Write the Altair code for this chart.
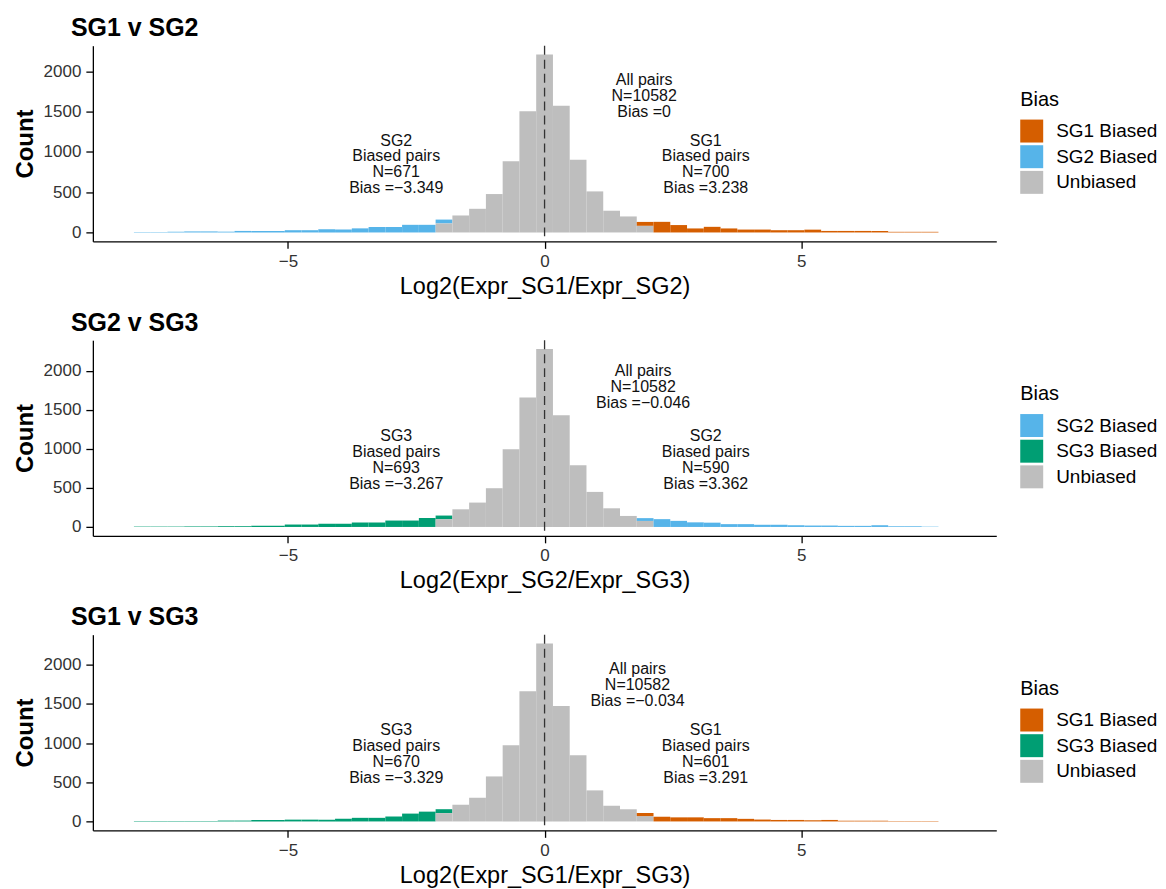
import altair as alt
import pandas as pd

FONT = "Liberation Sans"
BIN_WIDTH = 16 / 49          # 49 bins over [-8, 8]
LEFT_BINS = list(range(-24, -5))   # -24 .. -6
MID_BINS = list(range(-6, 7))      # -6 .. 6
RIGHT_BINS = list(range(6, 24))    # 6 .. 23

COLORS = {"SG1 Biased": "#D55E00", "SG2 Biased": "#56B4E9",
          "SG3 Biased": "#009E73", "Unbiased": "#BEBEBE"}

# ---- Panel 1: SG1 v SG2 ----
P1_LEFT = [5, 5, 9, 13, 13, 10, 19, 19, 19, 28, 28, 41, 37, 51, 68, 68, 95, 95, 48]
P1_MID = [112, 211, 294, 477, 883, 1504, 2209, 1575, 903, 510, 270, 199, 83]
P1_RIGHT = [48, 132, 92, 50, 70, 50, 36, 36, 28, 28, 35, 19, 19, 19, 18, 8, 8, 8]

# ---- Panel 2: SG2 v SG3 ----
P2_LEFT = [5, 5, 5, 7, 7, 10, 10, 16, 16, 31, 31, 41, 41, 57, 57, 82, 82, 115, 48]
P2_MID = [98, 226, 312, 496, 996, 1658, 2278, 1432, 790, 449, 239, 141, 77]
P2_RIGHT = [36, 100, 78, 59, 55, 36, 36, 28, 28, 22, 18, 18, 14, 14, 22, 9, 9, 4]

# ---- Panel 3: SG1 v SG3 ----
P3_LEFT = [6, 6, 6, 6, 6, 11, 11, 18, 18, 23, 23, 23, 35, 46, 46, 63, 100, 125, 50]
P3_MID = [106, 213, 302, 574, 970, 1660, 2268, 1472, 843, 396, 200, 155, 68]
P3_RIGHT = [40, 60, 52, 52, 42, 42, 33, 24, 19, 19, 15, 19, 9, 9, 9, 5, 5, 5]

PANELS = [
    dict(title="SG1 v SG2", xtitle="Log2(Expr_SG1/Expr_SG2)",
         left_cat="SG2 Biased", right_cat="SG1 Biased",
         left=P1_LEFT, mid=P1_MID, right=P1_RIGHT,
         ann_x=[1.94, -2.89, 3.14], ann_y=[1894, 1142, 1142],
         ann=["All pairs\nN=10582\nBias =0",
              "SG2\nBiased pairs\nN=671\nBias =\u22123.349",
              "SG1\nBiased pairs\nN=700\nBias =3.238"]),
    dict(title="SG2 v SG3", xtitle="Log2(Expr_SG2/Expr_SG3)",
         left_cat="SG3 Biased", right_cat="SG2 Biased",
         left=P2_LEFT, mid=P2_MID, right=P2_RIGHT,
         ann_x=[1.92, -2.89, 3.14], ann_y=[1999, 1168, 1168],
         ann=["All pairs\nN=10582\nBias =\u22120.046",
              "SG3\nBiased pairs\nN=693\nBias =\u22123.267",
              "SG2\nBiased pairs\nN=590\nBias =3.362"]),
    dict(title="SG1 v SG3", xtitle="Log2(Expr_SG1/Expr_SG3)",
         left_cat="SG3 Biased", right_cat="SG1 Biased",
         left=P3_LEFT, mid=P3_MID, right=P3_RIGHT,
         ann_x=[1.81, -2.89, 3.14], ann_y=[1944, 1163, 1163],
         ann=["All pairs\nN=10582\nBias =\u22120.034",
              "SG3\nBiased pairs\nN=670\nBias =\u22123.329",
              "SG1\nBiased pairs\nN=601\nBias =3.291"]),
]

W, H = 905, 196


def make_panel(p):
    rows = []
    for b, v in zip(LEFT_BINS, p["left"]):
        rows.append(dict(bin=b, cat=p["left_cat"], n=v, ord=1))
    for b, v in zip(MID_BINS, p["mid"]):
        rows.append(dict(bin=b, cat="Unbiased", n=v, ord=0))
    for b, v in zip(RIGHT_BINS, p["right"]):
        rows.append(dict(bin=b, cat=p["right_cat"], n=v, ord=1))
    df = pd.DataFrame(rows)
    df["lo"] = df["bin"] * BIN_WIDTH - BIN_WIDTH / 2
    df["hi"] = df["bin"] * BIN_WIDTH + BIN_WIDTH / 2
    peak = df.groupby("bin")["n"].sum().max()
    ydom = [-0.05 * peak, 1.05 * peak]
    dom = sorted([p["left_cat"], p["right_cat"]]) + ["Unbiased"]
    rng = [COLORS[c] for c in dom]

    xs = alt.Scale(domain=[-8.8, 8.8], nice=False, zero=False)
    ys = alt.Scale(domain=ydom, nice=False, zero=False)

    bars = alt.Chart(df).transform_stack(
        stack="n", groupby=["bin"], as_=["y0", "y1"],
        sort=[alt.SortField("ord", order="ascending")]
    ).mark_bar(strokeWidth=0).encode(
        x=alt.X("lo:Q", scale=xs, title=p["xtitle"], axis=alt.Axis(values=[-5, 0, 5])),
        x2="hi:Q",
        y=alt.Y("y0:Q", scale=ys, title="Count",
                axis=alt.Axis(values=[0, 500, 1000, 1500, 2000], format="d")),
        y2="y1:Q",
        color=alt.Color("cat:N", scale=alt.Scale(domain=dom, range=rng),
                        legend=alt.Legend(
                            title="Bias", orient="none", legendX=929, legendY=44,
                            titleFontSize=20, titleFontWeight="normal", titleFont=FONT,
                            titleColor="black", labelFont=FONT, labelFontSize=19,
                            labelColor="black", symbolType="square", symbolSize=529,
                            symbolStrokeWidth=0, symbolOpacity=1, labelOffset=13,
                            rowPadding=2.7, titlePadding=10)),
    )

    rule = alt.Chart(pd.DataFrame({"x": [0]})).mark_rule(
        strokeDash=[9, 5], color="#333333", strokeWidth=1.3
    ).encode(x=alt.X("x:Q", scale=xs, title=p["xtitle"]))

    ann = pd.DataFrame({"x": p["ann_x"], "y": p["ann_y"], "label": p["ann"]})
    texts = alt.Chart(ann).mark_text(
        lineBreak="\n", font=FONT, fontSize=16, lineHeight=16, color="#111111",
        align="center", baseline="middle"
    ).encode(
        x=alt.X("x:Q", scale=xs, title=p["xtitle"]),
        y=alt.Y("y:Q", scale=ys, title="Count"),
        text="label:N",
    )

    return alt.layer(bars, rule, texts).properties(
        width=W, height=H,
        title=alt.TitleParams(p["title"], anchor="start", frame="group", dx=-22,
                              fontSize=25, fontWeight="bold", font=FONT,
                              color="black", offset=4),
    )


chart = alt.vconcat(*[make_panel(p) for p in PANELS], spacing=12).resolve_scale(
    color="independent", x="independent", y="independent"
).resolve_legend(color="independent").properties(
    padding={"left": 5, "top": 7, "right": 0, "bottom": 0}
).configure_view(stroke=None).configure_axis(
    grid=False, domainColor="black", domainWidth=1.3, tickColor="black",
    tickWidth=1.3, tickSize=7, labelFont=FONT, labelFontSize=17,
    labelColor="#333333", titleFont=FONT, titleColor="black", labelPadding=5,
).configure_axisX(
    titleFontSize=23.5, titleFontWeight="normal", titlePadding=5
).configure_axisY(
    titleFontSize=24, titleFontWeight="bold", titlePadding=6
)

chart.save("out.html", embed_options={"renderer": "svg", "actions": False})
